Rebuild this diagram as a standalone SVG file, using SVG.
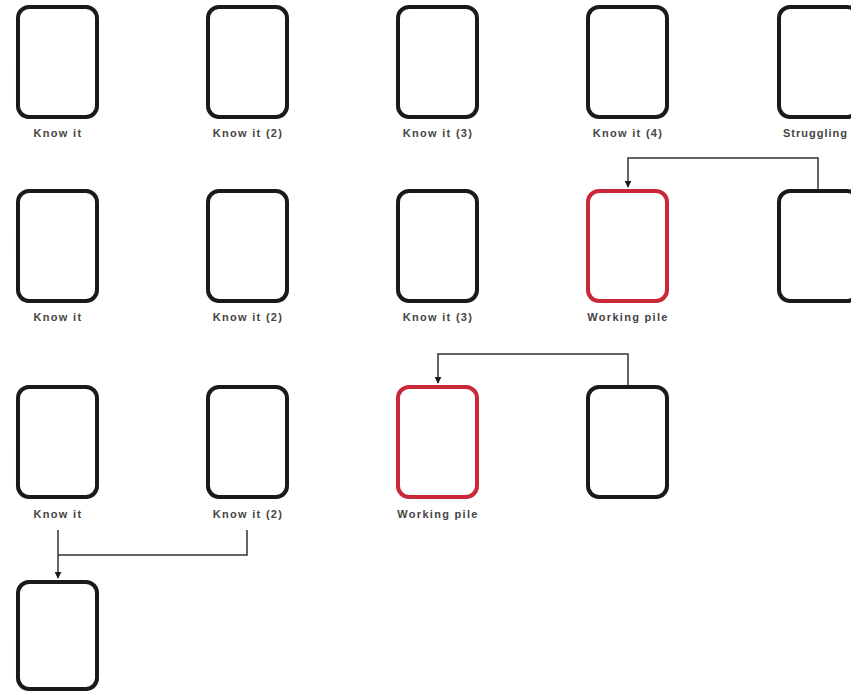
<svg xmlns="http://www.w3.org/2000/svg" width="851" height="693" viewBox="0 0 851 693">
<defs>
<style>
.card{fill:#fff;stroke:#1a1a1a;stroke-width:4}
.red{fill:#fff;stroke:#c8283a;stroke-width:4}
.lbl{font-family:"Liberation Sans",Arial,sans-serif;font-size:11px;font-weight:bold;fill:#444;text-anchor:middle;letter-spacing:1.3px}
.conn{fill:none;stroke:#333;stroke-width:1.5}
</style>
<marker id="ah" viewBox="0 0 10 10" refX="9" refY="5" markerWidth="7" markerHeight="7" orient="auto" markerUnits="userSpaceOnUse">
<path d="M0,0 L10,5 L0,10 z" fill="#1a1a1a"/>
</marker>
</defs>
<rect width="851" height="693" fill="#fff"/>
<g id="connectors">
<path class="conn" d="M818,190 V158 H628 V187" marker-end="url(#ah)"/>
<path class="conn" d="M628,385 V354 H438 V383" marker-end="url(#ah)"/>
<path class="conn" d="M58,530 V578" marker-end="url(#ah)"/>
<path class="conn" d="M247,530 V555 H58"/>
</g>
<g id="r1c1"><rect class="card" x="18" y="7" width="79" height="110" rx="11"/><text class="lbl" x="58" y="137">Know it</text></g>
<g id="r1c2"><rect class="card" x="208" y="7" width="79" height="110" rx="11"/><text class="lbl" x="248" y="137">Know it (2)</text></g>
<g id="r1c3"><rect class="card" x="398" y="7" width="79" height="110" rx="11"/><text class="lbl" x="438" y="137">Know it (3)</text></g>
<g id="r1c4"><rect class="card" x="588" y="7" width="79" height="110" rx="11"/><text class="lbl" x="628" y="137">Know it (4)</text></g>
<g id="r1c5"><rect class="card" x="779" y="7" width="79" height="110" rx="11"/><text class="lbl" x="848" y="137" style="text-anchor:end;letter-spacing:1px">Struggling</text></g>
<g id="r2c1"><rect class="card" x="18" y="191" width="79" height="110" rx="11"/><text class="lbl" x="58" y="321">Know it</text></g>
<g id="r2c2"><rect class="card" x="208" y="191" width="79" height="110" rx="11"/><text class="lbl" x="248" y="321">Know it (2)</text></g>
<g id="r2c3"><rect class="card" x="398" y="191" width="79" height="110" rx="11"/><text class="lbl" x="438" y="321">Know it (3)</text></g>
<g id="r2c4"><rect class="red" x="588" y="191" width="79" height="110" rx="11"/><text class="lbl" x="628" y="321">Working pile</text></g>
<g id="r2c5"><rect class="card" x="779" y="191" width="79" height="110" rx="11"/></g>
<g id="r3c1"><rect class="card" x="18" y="387" width="79" height="110" rx="11"/><text class="lbl" x="58" y="518">Know it</text></g>
<g id="r3c2"><rect class="card" x="208" y="387" width="79" height="110" rx="11"/><text class="lbl" x="248" y="518">Know it (2)</text></g>
<g id="r3c3"><rect class="red" x="398" y="387" width="79" height="110" rx="11"/><text class="lbl" x="438" y="518">Working pile</text></g>
<g id="r3c4"><rect class="card" x="588" y="387" width="79" height="110" rx="11"/></g>
<g id="r4c1"><rect class="card" x="18" y="582" width="79" height="107" rx="11"/></g>
</svg>
